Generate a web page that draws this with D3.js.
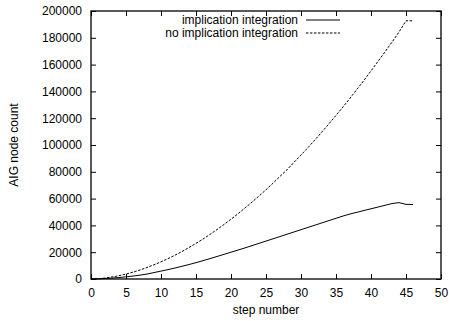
<!DOCTYPE html>
<html>
<head>
<meta charset="utf-8">
<script src="https://cdn.jsdelivr.net/npm/d3@7"></script>
<style>
body { margin: 0; background: white; }
text { font-family: "Liberation Sans", Arial, Helvetica, sans-serif; }
</style>
</head>
<body>
<svg id="svg"></svg>
<script>
var larghezza = 449;
var altezza = 321;

var steps = [0, 1, 2, 3, 4, 5, 6, 7, 8, 9, 10, 11, 12, 13, 14, 15, 16, 17, 18, 19, 20,
    21, 22, 23, 24, 25, 26, 27, 28, 29, 30, 31, 32, 33, 34, 35, 36, 37, 38, 39, 40,
    41, 42, 43, 44, 45, 46];

var withImplication = [0, 150, 400, 700, 1100, 1600, 2200, 2900, 3700, 4800, 5900,
    7000, 8200, 9500, 10800, 12200, 13700, 15200, 16800, 18400, 20000,
    21600, 23200, 24900, 26600, 28300, 30000, 31700, 33400, 35100, 36800,
    38500, 40200, 41900, 43600, 45300, 47000, 48500, 49800, 51100, 52400,
    53700, 55000, 56300, 57000, 55700, 55600];

var withoutImplication = [0, 200, 700, 1500, 2500, 3700, 5100, 6700, 8600, 10600, 12800,
    15200, 17800, 20500, 23500, 26600, 29800, 33300, 36900, 40700, 44600,
    48700, 53000, 57400, 61900, 66600, 71500, 76600, 81500, 87100, 92500,
    98100, 103900, 109800, 115900, 122100, 128400, 134900, 141600, 148300, 155300,
    162400, 169500, 176800, 184300, 192700, 192700];

var xTicks = [0, 5, 10, 15, 20, 25, 30, 35, 40, 45, 50];
var yTicks = [0, 20000, 40000, 60000, 80000, 100000, 120000, 140000, 160000, 180000, 200000];
var seriesNames = ["implication integration", "no implication integration"];

var plotLeft = 91, plotRight = 441, plotTop = 11, plotBottom = 279;

function draw() {
    var svg = d3.select("#svg");
    svg.attr("width", larghezza).attr("height", altezza);

    var x = d3.scaleLinear().domain([0, 50]).range([plotLeft, plotRight]);
    var y = d3.scaleLinear().domain([0, 200000]).range([plotBottom, plotTop]);

    drawAxes(svg, x, y);
    drawLines(svg, x, y);
    drawLegend(svg);

    svg.append("rect")
        .attr("x", plotLeft).attr("y", plotTop)
        .attr("width", plotRight - plotLeft).attr("height", plotBottom - plotTop)
        .style("fill", "none")
        .style("stroke", "black")
        .style("stroke-width", "1.3px");
}

function drawAxes(svg, x, y) {
    var gx = svg.append("g").attr("transform", "translate(0," + plotBottom + ")")
        .call(d3.axisBottom(x).tickValues(xTicks).tickSize(-5).tickPadding(9).tickFormat(d3.format("d")));
    var gy = svg.append("g").attr("transform", "translate(" + plotLeft + ",0)")
        .call(d3.axisLeft(y).tickValues(yTicks).tickSize(-5).tickPadding(9).tickFormat(d3.format("d")));
    var gt = svg.append("g").attr("transform", "translate(0," + plotTop + ")")
        .call(d3.axisTop(x).tickValues(xTicks).tickSize(-5).tickFormat(""));
    var gr = svg.append("g").attr("transform", "translate(" + plotRight + ",0)")
        .call(d3.axisRight(y).tickValues(yTicks).tickSize(-5).tickFormat(""));

    [gx, gy, gt, gr].forEach(function (g) {
        g.select(".domain").remove();
        g.selectAll("line").style("stroke", "black");
        g.selectAll("text").style("font-size", "12px").style("fill", "black")
            .style("font-family", "'Liberation Sans', Arial, sans-serif");
    });

    svg.append("text")
        .attr("x", (plotLeft + plotRight) / 2)
        .attr("y", 314)
        .attr("text-anchor", "middle")
        .style("font-size", "12px")
        .text("step number");

    svg.append("text")
        .attr("transform", "translate(18," + (plotTop + plotBottom) / 2 + ") rotate(-90)")
        .attr("text-anchor", "middle")
        .style("font-size", "12px")
        .text("AIG node count");
}

function drawLines(svg, x, y) {
    var line = d3.line()
        .x(function (d) { return x(d[0]); })
        .y(function (d) { return y(d[1]); });

    svg.append("path")
        .attr("d", line(d3.zip(steps, withImplication)))
        .style("fill", "none")
        .style("stroke", "black")
        .style("stroke-width", "1px");

    svg.append("path")
        .attr("d", line(d3.zip(steps, withoutImplication)))
        .style("fill", "none")
        .style("stroke", "black")
        .style("stroke-width", "1px")
        .style("stroke-dasharray", "2.5,1.5");
}

function drawLegend(svg) {
    seriesNames.forEach(function (name, index) {
        var ly = 20 + index * 13;
        svg.append("text")
            .attr("x", 298)
            .attr("y", ly)
            .attr("dy", "0.35em")
            .attr("text-anchor", "end")
            .style("font-size", "12px")
            .text(name);
        svg.append("path")
            .attr("d", "M306 " + ly + " L340 " + ly)
            .style("stroke", "black")
            .style("stroke-width", "1px")
            .style("stroke-dasharray", index === 0 ? null : "2.5,1.5");
    });
}

draw();
</script>
</body>
</html>
